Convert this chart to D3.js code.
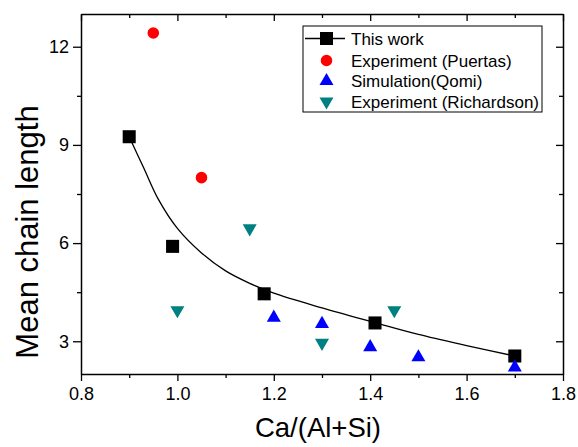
<!DOCTYPE html>
<html>
<head>
<meta charset="utf-8">
<script src="https://cdn.jsdelivr.net/npm/d3@7"></script>
<style>
  body { margin: 0; background: #fff; }
  text { font-family: Arial, "Liberation Sans", sans-serif; }
</style>
</head>
<body>
<svg id="chart" width="578" height="447"></svg>
<script>
// data
const thisWorkX = [0.9, 0.99, 1.18, 1.41, 1.70];
const thisWorkY = [9.25, 5.9, 4.45, 3.56, 2.55];

const puertasX = [0.95, 1.05];
const puertasY = [12.42, 8.0];

const qomiX = [1.2, 1.3, 1.4, 1.5, 1.7];
const qomiY = [3.72, 3.53, 2.82, 2.51, 2.2];

const richardsonX = [1.0, 1.15, 1.3, 1.45];
const richardsonY = [3.95, 6.45, 2.95, 3.95];

// fitted curve
const fitX = [0.9, 0.93, 0.96, 1.0, 1.05, 1.1, 1.15, 1.2, 1.3, 1.41, 1.5, 1.6, 1.7];
const fitY = [9.25, 8.3, 7.35, 6.45, 5.7, 5.15, 4.77, 4.47, 4.02, 3.57, 3.21, 2.87, 2.55];

const xTicks = [0.8, 1.0, 1.2, 1.4, 1.6, 1.8];
const xMinor = [0.9, 1.1, 1.3, 1.5, 1.7];
const yTicks = [3, 6, 9, 12];
const yMinor = [4.5, 7.5, 10.5];

const legendNames = ["This work", "Experiment (Puertas)", "Simulation(Qomi)", "Experiment (Richardson)"];

const margin = {left: 81, top: 14, right: 15, bottom: 73};
const svg = d3.select("#chart");
const width = 578 - margin.left - margin.right;
const height = 447 - margin.top - margin.bottom;

const x = d3.scaleLinear().domain([0.8, 1.8]).range([0, width]);
const y = d3.scaleLinear().domain([2, 13]).range([height, 0]);

const g = svg.append("g").attr("transform", "translate(" + margin.left + "," + margin.top + ")");

function styleAxis(sel, fontSize) {
    sel.select(".domain").attr("stroke", "#000").attr("stroke-width", 1.5);
    sel.selectAll(".tick line").attr("stroke", "#000").attr("stroke-width", 1.3);
    sel.selectAll("text").attr("fill", "#000").style("font-size", fontSize + "px");
}

// bottom axis
const xAxis = g.append("g").attr("transform", "translate(0," + height + ")")
    .call(d3.axisBottom(x).tickValues(xTicks).tickFormat(d3.format(".1f")).tickSize(7).tickSizeOuter(0).tickPadding(6));
styleAxis(xAxis, 18);
const xAxisMinor = g.append("g").attr("transform", "translate(0," + height + ")")
    .call(d3.axisBottom(x).tickValues(xMinor).tickFormat("").tickSize(4).tickSizeOuter(0));
styleAxis(xAxisMinor, 18);
xAxisMinor.select(".domain").remove();

// left axis
const yAxis = g.append("g")
    .call(d3.axisLeft(y).tickValues(yTicks).tickSize(8).tickSizeOuter(0).tickPadding(4));
styleAxis(yAxis, 18);
const yAxisMinor = g.append("g")
    .call(d3.axisLeft(y).tickValues(yMinor).tickFormat("").tickSize(4).tickSizeOuter(0));
styleAxis(yAxisMinor, 18);
yAxisMinor.select(".domain").remove();

// top axis, ticks inward
const topAxis = g.append("g")
    .call(d3.axisTop(x).tickValues(xTicks).tickFormat("").tickSize(-7).tickSizeOuter(0));
styleAxis(topAxis, 18);
const topMinor = g.append("g")
    .call(d3.axisTop(x).tickValues(xMinor).tickFormat("").tickSize(-4).tickSizeOuter(0));
styleAxis(topMinor, 18);
topMinor.select(".domain").remove();

// right axis, ticks inward
const rightAxis = g.append("g").attr("transform", "translate(" + width + ",0)")
    .call(d3.axisRight(y).tickValues(yTicks).tickFormat("").tickSize(-7).tickSizeOuter(0));
styleAxis(rightAxis, 18);
const rightMinor = g.append("g").attr("transform", "translate(" + width + ",0)")
    .call(d3.axisRight(y).tickValues(yMinor).tickFormat("").tickSize(-4).tickSizeOuter(0));
styleAxis(rightMinor, 18);
rightMinor.select(".domain").remove();

// axis titles
svg.append("text")
    .attr("x", 318)
    .attr("y", 437)
    .attr("text-anchor", "middle")
    .style("font-size", "27.5px")
    .text("Ca/(Al+Si)");

svg.append("text")
    .attr("transform", "translate(38,232)rotate(-90)")
    .attr("text-anchor", "middle")
    .style("font-size", "31px")
    .text("Mean chain length");

// fitted curve
const fitData = fitX.map((d, i) => [d, fitY[i]]);
g.append("path")
    .datum(fitData)
    .attr("fill", "none")
    .attr("stroke", "#000")
    .attr("stroke-width", 1.3)
    .attr("d", d3.line().x(d => x(d[0])).y(d => y(d[1])).curve(d3.curveCatmullRom.alpha(0.5)));

const sym = {
    square: d3.symbol().type(d3.symbolSquare).size(170),
    circle: d3.symbol().type(d3.symbolCircle).size(105),
    triUp: d3.symbol().type(d3.symbolTriangle).size(85),
};

function drawPoints(xs, ys, path, color, rotate) {
    g.append("g").selectAll("path")
        .data(xs.map((d, i) => [d, ys[i]]))
        .enter()
        .append("path")
        .attr("d", path)
        .attr("fill", color)
        .attr("transform", d => "translate(" + x(d[0]) + "," + y(d[1]) + ")" + (rotate ? "rotate(180)" : ""));
}

drawPoints(thisWorkX, thisWorkY, sym.square(), "#000", false);
drawPoints(puertasX, puertasY, sym.circle(), "#ff0000", false);
drawPoints(qomiX, qomiY, sym.triUp(), "#0000ff", false);
drawPoints(richardsonX, richardsonY, sym.triUp(), "#008080", true);

// legend
const legend = svg.append("g").attr("transform", "translate(303,26)");
legend.append("rect")
    .attr("width", 239)
    .attr("height", 86)
    .attr("fill", "#fff")
    .attr("stroke", "#000")
    .attr("stroke-width", 1);

const legendRows = [12.5, 34.5, 55, 75.5];
const legendSym = [sym.square(), sym.circle(), sym.triUp(), sym.triUp()];
const legendCol = ["#000", "#ff0000", "#0000ff", "#008080"];

legend.append("line")
    .attr("x1", 2).attr("x2", 42)
    .attr("y1", legendRows[0]).attr("y2", legendRows[0])
    .attr("stroke", "#000").attr("stroke-width", 1.3);

legendNames.forEach(function (name, i) {
    legend.append("path")
        .attr("d", legendSym[i])
        .attr("fill", legendCol[i])
        .attr("transform", "translate(23.5," + legendRows[i] + ")" + (i == 3 ? "rotate(180)" : ""));
    legend.append("text")
        .attr("x", 48)
        .attr("y", legendRows[i])
        .attr("dy", "0.36em")
        .style("font-size", "17px")
        .text(name);
});
</script>
</body>
</html>
